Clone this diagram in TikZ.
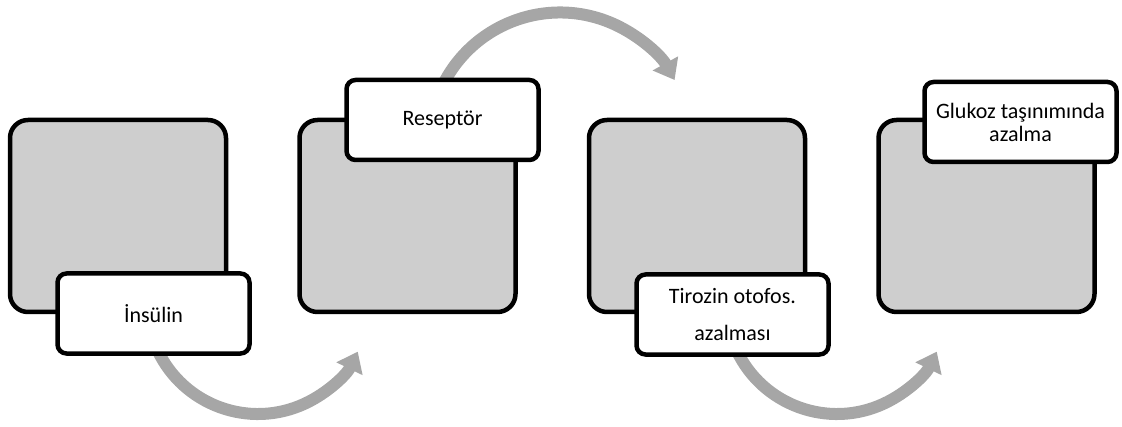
\documentclass[tikz,border=0pt]{standalone}
\usepackage{fontspec}
\setmainfont{Carlito}
\usetikzlibrary{arrows.meta}
\definecolor{arrowgray}{RGB}{166,166,166}
\definecolor{boxgray}{RGB}{206,206,206}
\begin{document}
\begin{tikzpicture}[x=1pt,y=1pt,
  graybox/.style={draw=black, line width=4.5pt, fill=boxgray, rounded corners=18pt,
    minimum width=216pt, minimum height=192pt, inner sep=0pt},
  labelbox/.style={draw=black, line width=4.5pt, fill=white, rounded corners=9pt,
    minimum width=192pt, minimum height=80pt, align=center, inner sep=0pt,
    font=\fontsize{22}{23}\selectfont},
  flow/.style={draw=arrowgray, line width=12pt,
    -{Triangle[length=19pt,width=28pt]}}]
\useasboundingbox (0,0) rectangle (1122,426);

% centres of the curved arrows
\coordinate (c1) at (258,123);
\coordinate (c2) at (560,282.5);
\coordinate (c3) at (837,123);

% curved arrows, drawn first so the boxes cover their tails
\draw[flow] (c1) ++(205:111) arc[start angle=205, end angle=334, radius=111];
\draw[flow] (c2) ++(155:131) arc[start angle=155, end angle=29, radius=131];
\draw[flow] (c3) ++(205:111) arc[start angle=205, end angle=334, radius=111];

% grey squares
\node[graybox] (g1) at (118,210) {};
\node[graybox] (g2) at (407.5,210) {};
\node[graybox] (g3) at (697,210) {};
\node[graybox] (g4) at (986.5,210) {};

% text boxes
\node[labelbox] (l1) at (153.5,112.5) {İnsülin};
\node[labelbox] (l2) at (442.5,306) {Reseptör};
\node[labelbox] (l3) at (732.5,111.5) {Tirozin otofos.\\[14pt]azalması};
\node[labelbox] (l4) at (1020.5,304) {Glukoz taşınımında\\azalma};
\end{tikzpicture}
\end{document}
